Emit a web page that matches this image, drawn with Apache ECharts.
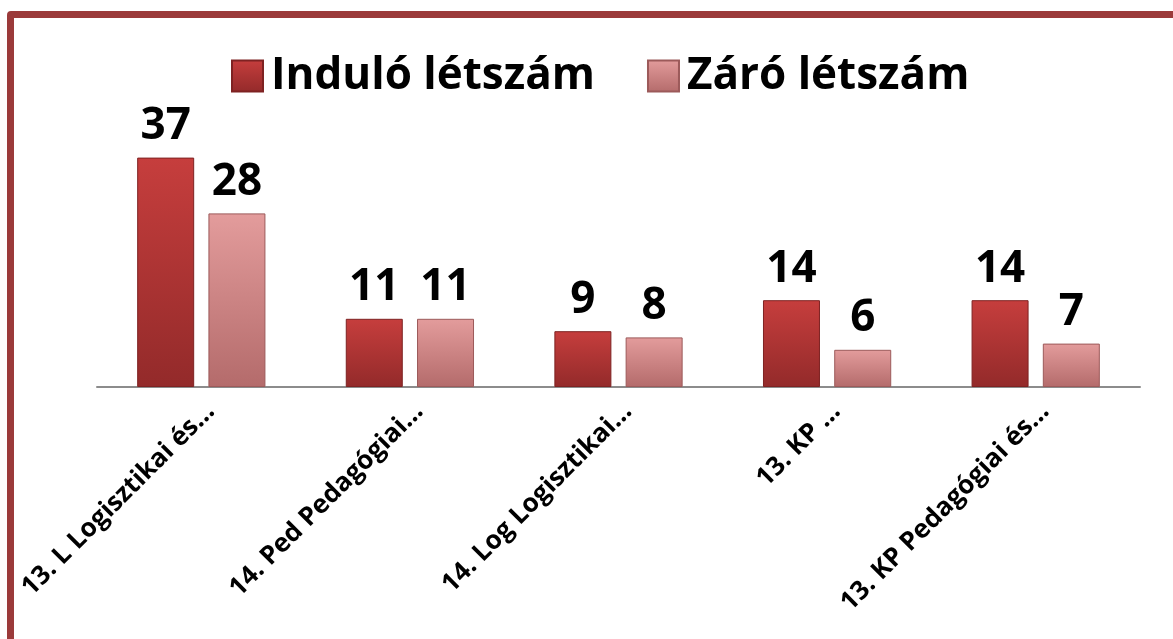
<!DOCTYPE html>
<html>
<head>
<meta charset="UTF-8">
<title>Létszám</title>
<script src="https://cdn.jsdelivr.net/npm/echarts@6/dist/echarts.min.js"></script>
<style>
  html, body { margin: 0; padding: 0; background: #fff; }
  #container { position: absolute; left: 0; top: 0; width: 1173px; height: 639px; }
  #frame { position: absolute; left: 7px; top: 11px; width: 1180px; height: 650px;
           border: 7px solid #9b3a3a; border-radius: 4px; pointer-events: none; }
</style>
</head>
<body>
<div id="container"></div>
<div id="frame"></div>
<script>
var categories = ['13. L Logisztikai és…', '14. Ped Pedagógiai…', '14. Log Logisztikai…', '13. KP …', '13. KP Pedagógiai és…'];
var indulo = [37, 11, 9, 14, 14];
var zaro = [28, 11, 8, 6, 7];
var seriesNames = ['Induló létszám', 'Záró létszám'];

var font = '"Open Sans", Lato, sans-serif';

function grad(top, bottom) {
    return new echarts.graphic.LinearGradient(0, 0, 0, 1, [
        {offset: 0, color: top},
        {offset: 1, color: bottom}
    ]);
}

var myChart = echarts.init(document.getElementById('container'));
var option = {
    animation: false,
    legend: {
        data: seriesNames,
        left: 226,
        top: 49,
        itemWidth: 31,
        itemHeight: 31,
        itemGap: 52,
        icon: 'rect',
        textStyle: {fontFamily: font, fontSize: 44, fontWeight: 'bold', color: '#000', padding: [0, 0, 0, 3]}
    },
    grid: {left: 97, right: 33, top: 139, bottom: 252},
    xAxis: {
        type: 'category',
        data: categories,
        axisLine: {lineStyle: {color: '#8c8c8c', width: 2}},
        axisTick: {show: false},
        axisLabel: {
            interval: 0,
            rotate: 45,
            margin: 11,
            align: 'right',
            verticalAlign: 'top',
            fontFamily: font,
            fontSize: 26,
            fontWeight: 'bold',
            color: '#000'
        }
    },
    yAxis: {
        type: 'value',
        min: 0,
        max: 40,
        show: false,
        splitLine: {show: false}
    },
    series: [
        {
            name: seriesNames[0],
            type: 'bar',
            data: indulo,
            barWidth: 57,
            barGap: '25%',
            itemStyle: {color: grad('#c63e3d', '#932a2a'), borderColor: '#7e2222', borderWidth: 1},
            label: {show: true, position: 'top', distance: 9, fontFamily: font, fontSize: 44, fontWeight: 'bold', color: '#000'}
        },
        {
            name: seriesNames[1],
            type: 'bar',
            data: zaro,
            barWidth: 57,
            itemStyle: {color: grad('#e39c9c', '#b46b6b'), borderColor: '#9c5a5a', borderWidth: 1},
            label: {show: true, position: 'top', distance: 9, fontFamily: font, fontSize: 44, fontWeight: 'bold', color: '#000'}
        }
    ]
};
myChart.setOption(option, true);
</script>
</body>
</html>
